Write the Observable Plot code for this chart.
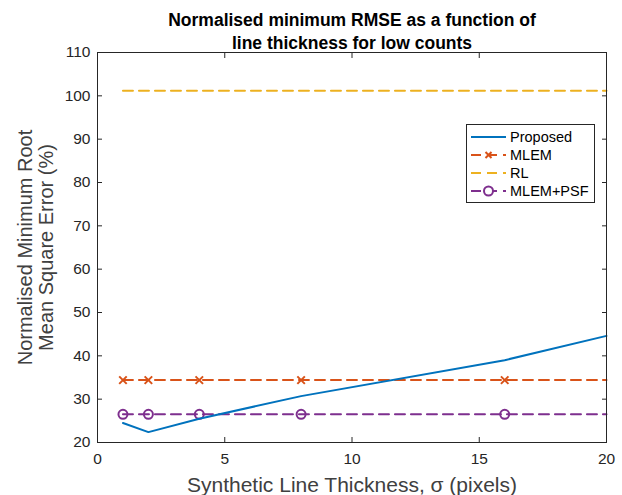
<!DOCTYPE html>
<html><head><meta charset="utf-8">
<script src="https://cdn.jsdelivr.net/npm/d3@7"></script>
<script src="https://cdn.jsdelivr.net/npm/@observablehq/plot@0.6"></script>
<style>
body{margin:0;background:#fff;font-family:"Liberation Sans",Arial,sans-serif;}
#wrap{position:relative;width:622px;height:495px;}
#legend{position:absolute;left:466px;top:124px;}
</style></head>
<body><div id="wrap"></div>
<script>
// ---- data ----
const thickness = [1, 2, 4, 8, 16, 20];
const proposed = [24.5, 22.4, 25.5, 30.7, 39.0, 44.6];
const markerThickness = [1, 2, 4, 8, 16];
const mlemValue = 34.4;
const rlValue = 101.2;
const mlemPsfValue = 26.5;
const xTicks = [0, 5, 10, 15, 20];
const yTicks = [20, 30, 40, 50, 60, 70, 80, 90, 100, 110];
const seriesNames = ["Proposed", "MLEM", "RL", "MLEM+PSF"];
const colors = ["#0072BD", "#D95319", "#EDB120", "#7E2F8E"];

const lineProposed = thickness.map((t, i) => ({x: t, y: proposed[i]}));
const lineMlem = thickness.map(t => ({x: t, y: mlemValue}));
const lineRl = thickness.map(t => ({x: t, y: rlValue}));
const linePsf = thickness.map(t => ({x: t, y: mlemPsfValue}));
const markMlem = markerThickness.map(t => ({x: t, y: mlemValue}));
const markPsf = markerThickness.map(t => ({x: t, y: mlemPsfValue}));

const ink = "#262626";
const labelInk = "#404040";
const dash = "10,6";

const chart = Plot.plot({
  width: 622, height: 495,
  marginLeft: 97, marginRight: 16, marginTop: 52, marginBottom: 53,
  style: {fontFamily: '"Liberation Sans", Arial, sans-serif', fontSize: "15.5px", color: ink, background: "#fff"},
  x: {domain: [0, 20], ticks: xTicks, label: null},
  y: {domain: [20, 110], ticks: yTicks, label: null},
  marks: [
    Plot.line(lineRl, {x: "x", y: "y", stroke: colors[2], strokeWidth: 2, strokeDasharray: dash}),
    Plot.line(lineMlem, {x: "x", y: "y", stroke: colors[1], strokeWidth: 2, strokeDasharray: dash}),
    Plot.line(linePsf, {x: "x", y: "y", stroke: colors[3], strokeWidth: 2, strokeDasharray: dash}),
    Plot.dot(markMlem, {x: "x", y: "y", symbol: "times", r: 3.5, stroke: colors[1], strokeWidth: 2}),
    Plot.dot(markPsf, {x: "x", y: "y", symbol: "circle", r: 4.5, stroke: colors[3], strokeWidth: 2, fill: "none"}),
    Plot.line(lineProposed, {x: "x", y: "y", stroke: colors[0], strokeWidth: 2}),
    Plot.frame({stroke: ink, strokeWidth: 1}),
    Plot.axisX({anchor: "bottom", ticks: xTicks, tickSize: -5, tickPadding: 15, stroke: ink, fill: ink, fontSize: 15.5, label: null}),
    Plot.axisX({anchor: "top", ticks: xTicks, tickSize: -5, text: null, stroke: ink, label: null}),
    Plot.axisY({anchor: "left", ticks: yTicks, tickSize: -5, tickPadding: 12, stroke: ink, fill: ink, fontSize: 15.5, label: null}),
    Plot.axisY({anchor: "right", ticks: yTicks, tickSize: -5, text: null, stroke: ink, label: null}),
    Plot.text(["Normalised minimum RMSE as a function of\nline thickness for low counts"], {
      frameAnchor: "top", dy: -44, text: d => d, fontWeight: "bold", fontSize: 17.5, fill: "#000",
      lineHeight: 1.37, textAnchor: "middle", lineAnchor: "top"
    }),
    Plot.text(["Synthetic Line Thickness, σ (pixels)"], {
      frameAnchor: "bottom", dy: 49, text: d => d, fontSize: 21, fill: labelInk, textAnchor: "middle"
    }),
    Plot.text(["Normalised Minimum Root\nMean Square Error (%)"], {
      frameAnchor: "left", dx: -62, text: d => d, fontSize: 20, fill: labelInk, rotate: -90,
      lineHeight: 1.05, textAnchor: "middle", lineAnchor: "middle"
    })
  ]
});
document.getElementById("wrap").appendChild(chart);

// ---- legend ----
const lg = d3.select("#wrap").append("svg").attr("id", "legend")
  .attr("width", 129).attr("height", 79);
lg.append("rect").attr("x", 0.5).attr("y", 0.5).attr("width", 128).attr("height", 78)
  .attr("fill", "#fff").attr("stroke", ink);
const rowsY = [13, 31, 49, 67];
seriesNames.forEach((name, i) => {
  const y = rowsY[i];
  const g = lg.append("g");
  g.append("line").attr("x1", 5).attr("x2", 40).attr("y1", y).attr("y2", y)
    .attr("stroke", colors[i]).attr("stroke-width", 2)
    .attr("stroke-dasharray", i === 0 ? null : dash);
  if (i === 1) {
    g.append("path").attr("d", `M${22.5-3},${y-3}L${22.5+3},${y+3}M${22.5-3},${y+3}L${22.5+3},${y-3}`)
      .attr("stroke", colors[i]).attr("stroke-width", 2);
  }
  if (i === 3) {
    g.append("circle").attr("cx", 22.5).attr("cy", y).attr("r", 4.5)
      .attr("fill", "#fff").attr("stroke", colors[i]).attr("stroke-width", 2);
  }
  g.append("text").attr("x", 44).attr("y", y).attr("dy", "0.35em")
    .attr("font-size", 14.5).attr("fill", "#000").text(name);
});
</script></body></html>
